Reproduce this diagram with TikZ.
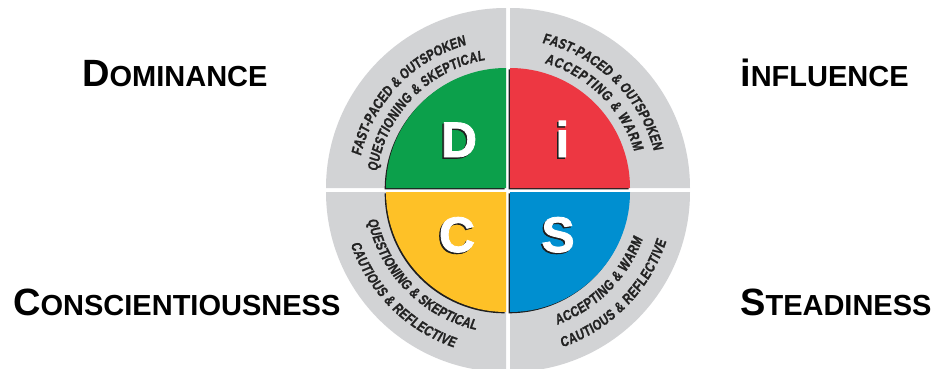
\documentclass[tikz,border=0pt]{standalone}
\usepackage{fontspec}
\setmainfont{Liberation Sans}
\newfontfamily\ringfont[FakeStretch=0.78,FakeSlant=0.1,FakeBold=1]{Liberation Sans}
\newfontfamily\heavyfont[FakeBold=1.6]{Liberation Sans}
\usetikzlibrary{decorations.text,calc}
\definecolor{ringgray}{RGB}{210,211,213}
\definecolor{dgreen}{RGB}{12,160,75}
\definecolor{dred}{RGB}{237,55,66}
\definecolor{dyellow}{RGB}{254,193,39}
\definecolor{dblue}{RGB}{0,143,208}
\definecolor{ringtxt}{RGB}{35,35,35}
\definecolor{shadowc}{RGB}{30,30,30}
\tikzset{
  ringline/.style={decorate, decoration={text along path, text align=fit to path,
     text color=ringtxt,
     text={|\ringfont\bfseries\fontsize{14.5}{14.5}\selectfont|#1}}},
  bigletter/.style={font=\heavyfont\bfseries\fontsize{50}{50}\selectfont, inner sep=0pt, anchor=base},
  lab/.style={font=\bfseries\fontsize{29}{29}\selectfont, inner sep=0pt, anchor=base west},
}
\newcommand\initcap[1]{{\fontsize{38}{38}\selectfont #1}}
\begin{document}
\begin{tikzpicture}[x=1pt,y=1pt]
\useasboundingbox (0,0) rectangle (938,368);
\clip (0,0) rectangle (938,368);
\def\cx{508}
\def\cy{178}
\coordinate (C) at (\cx,\cy);
% gray ring quadrants
\foreach \sx/\sy/\a in {-1/1/90, 1/1/0, -1/-1/180, 1/-1/270}{
  \fill[ringgray] (\cx+2*\sx,\cy+2*\sy) -- ++(\a:180) arc[start angle=\a, delta angle=90, radius=180] -- cycle;
}
% coloured quadrants with shadow
\foreach \sx/\sy/\a/\col in {-1/1/90/dgreen, 1/1/0/dred, -1/-1/180/dyellow, 1/-1/270/dblue}{
  \fill[shadowc] (\cx+2*\sx-1.3,\cy+2*\sy-1.3) -- ++(\a:120) arc[start angle=\a, delta angle=90, radius=120] -- cycle;
  \fill[\col] (\cx+2*\sx,\cy+2*\sy) -- ++(\a:120) arc[start angle=\a, delta angle=90, radius=120] -- cycle;
}
% ring texts
\path[ringline={FAST-PACED {\&} OUTSPOKEN}] ($(C)+(167:151)$) arc[start angle=167, end angle=106, radius=151];
\path[ringline={QUESTIONING {\&} SKEPTICAL}] ($(C)+(172:132)$) arc[start angle=172, end angle=100, radius=132];
\path[ringline={FAST-PACED {\&} OUTSPOKEN}] ($(C)+(77:151)$) arc[start angle=77, end angle=15, radius=151];
\path[ringline={ACCEPTING {\&} WARM}] ($(C)+(74:132)$) arc[start angle=74, end angle=17, radius=132];
\path[ringline={QUESTIONING {\&} SKEPTICAL}] ($(C)+(192:143.5)$) arc[start angle=192, end angle=257, radius=143.5];
\path[ringline={CAUTIOUS {\&} REFLECTIVE}] ($(C)+(199:166.5)$) arc[start angle=199, end angle=251, radius=166.5];
\path[ringline={ACCEPTING {\&} WARM}] ($(C)+(290:143.5)$) arc[start angle=290, end angle=340, radius=143.5];
\path[ringline={CAUTIOUS {\&} REFLECTIVE}] ($(C)+(289:166.5)$) arc[start angle=289, end angle=342, radius=166.5];
% big letters
\node[bigletter, text=shadowc] (Dsh) at (457.6,209.6) {D};
\node[bigletter, text=white] (D) at (459,211) {D};
\node[bigletter, text=shadowc] (ish) at (561,209.6) {i};
\node[bigletter, text=white] (i) at (562.4,211) {i};
\node[bigletter, text=shadowc] (Csh) at (455.6,114.6) {C};
\node[bigletter, text=white] (Cl) at (457,116) {C};
\node[bigletter, text=shadowc] (Ssh) at (556.6,114.6) {S};
\node[bigletter, text=white] (S) at (558,116) {S};
% side labels
\node[lab] (dom) at (82,282) {\initcap{D}OMINANCE};
\node[lab] (inf) at (740,282) {\initcap{i}NFLUENCE};
\node[lab] (con) at (13,53) {\initcap{C}ONSCIENTIOUSNESS};
\node[lab] (ste) at (740,53) {\initcap{S}TEADINESS};
\end{tikzpicture}
\end{document}
